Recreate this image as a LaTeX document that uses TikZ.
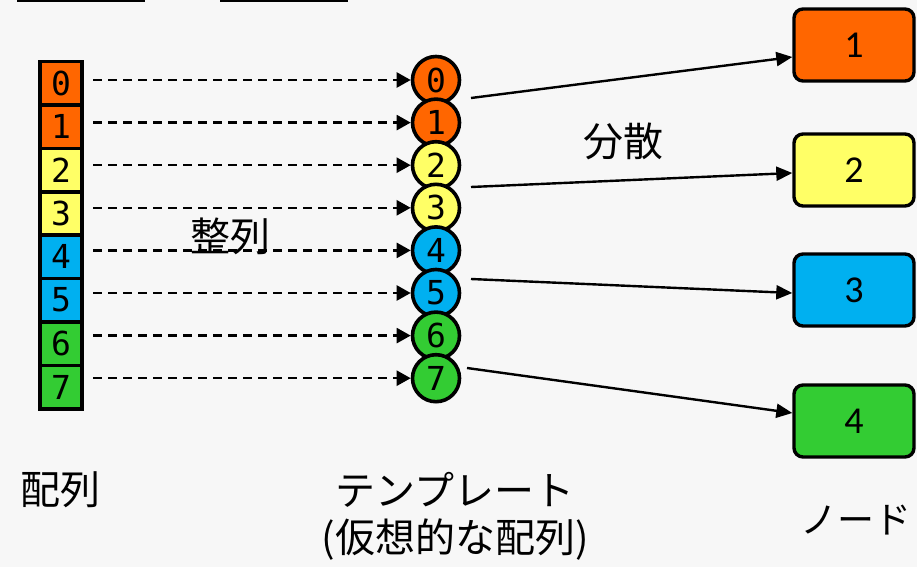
\documentclass[tikz,border=0pt]{standalone}
\usepackage{fontspec}
\newfontfamily\jpfont{Noto Sans CJK JP}
\newfontfamily\monofont{DejaVu Sans Mono}
\newfontfamily\boxfont{Carlito}
\usetikzlibrary{arrows.meta,calc}
\definecolor{bgc}{HTML}{F7F7F7}
\definecolor{cOr}{HTML}{FF6600}
\definecolor{cYe}{HTML}{FFFF66}
\definecolor{cBl}{HTML}{00B0F0}
\definecolor{cGr}{HTML}{33CC33}
\tikzset{
  cellbox/.style={draw=black, line width=3.6pt, minimum width=42.5pt, minimum height=43.4pt, inner sep=0pt,
    font=\monofont\fontsize{33}{35}\selectfont},
  circnode/.style={circle, draw=black, line width=3.6pt, minimum size=47pt, inner sep=0pt,
    font=\monofont\fontsize{33}{35}\selectfont},
  nodebox/.style={draw=black, line width=3.4pt, rounded corners=9pt, minimum width=120pt, minimum height=72pt, inner sep=0pt,
    font=\boxfont\fontsize{38}{40}\selectfont},
  dasharrow/.style={line width=2.4pt, dash pattern=on 9pt off 6pt, -{Triangle[length=14pt,width=15pt]}},
  solidarrow/.style={line width=2.4pt, -{Triangle[length=16pt,width=14pt]}},
  jplabel/.style={font=\jpfont\fontsize{40}{46}\selectfont, inner sep=0pt, align=center}
}
\begin{document}
\begin{tikzpicture}[x=1pt,y=-1pt]
\fill[bgc] (0,0) rectangle (917,567);
\useasboundingbox (0,0) rectangle (917,567);
% top underlines
\draw[line width=2.5pt] (17,0.8) -- (145,0.8);
\draw[line width=2.5pt] (220,0.8) -- (348,0.8);
% array cells
\foreach \i/\c in {0/cOr,1/cOr,2/cYe,3/cYe,4/cBl,5/cBl,6/cGr,7/cGr}{
  \node[cellbox, fill=\c] (a\i) at (61,{83.2+\i*43.4}) {\i};
}
% template circles
\foreach \i/\c in {0/cOr,1/cOr,2/cYe,3/cYe,4/cBl,5/cBl,6/cGr,7/cGr}{
  \node[circnode, fill=\c] (t\i) at (436,{80+\i*42.6}) {\i};
}
% dashed arrows
\foreach \i in {0,...,7}{
  \coordinate (s\i) at (93,{80+\i*42.6});
  \draw[dasharrow] (s\i) -- (t\i.west);
}
% node boxes
\node[nodebox, fill=cOr] (n1) at (854,45) {1};
\node[nodebox, fill=cYe] (n2) at (854,170) {2};
\node[nodebox, fill=cBl] (n3) at (854,290) {3};
\node[nodebox, fill=cGr] (n4) at (854,421) {4};
% distribution arrows
\coordinate (p0) at (471,98);
\coordinate (p2) at (471,187);
\coordinate (p4) at (471,279);
\coordinate (p7) at (467,368);
\draw[solidarrow] (p0) -- ($(n1.west)+(0,12)$);
\draw[solidarrow] (p2) -- ($(n2.west)+(0,3)$);
\draw[solidarrow] (p4) -- ($(n3.west)+(0,3)$);
\draw[solidarrow] (p7) -- ($(n4.west)+(0,-8)$);
% labels
\node[jplabel] (lbl1) at (623,141) {分散};
\node[jplabel] (lbl2) at (230,236) {整列};
\node[jplabel] (lbl3) at (60,490) {配列};
\node[jplabel] (lbl4) at (455,490) {テンプレート};
\node[jplabel] (lbl5) at (455,540) {(仮想的な配列)};
\node[jplabel, font=\jpfont\fontsize{37}{42}\selectfont] (lbl6) at (856,520) {ノード};
\end{tikzpicture}
\end{document}
